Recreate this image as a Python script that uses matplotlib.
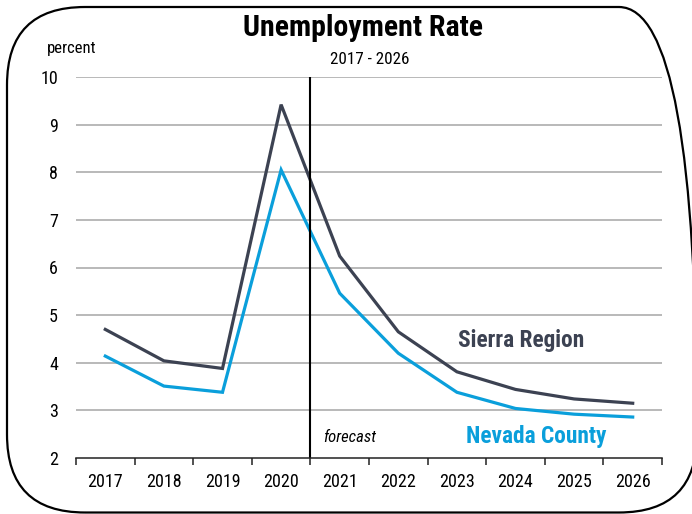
import matplotlib
matplotlib.use("Agg")
import matplotlib.pyplot as plt
from matplotlib.patches import FancyBboxPatch

years = ["2017", "2018", "2019", "2020", "2021", "2022", "2023", "2024", "2025", "2026"]
sierra_region = [4.70, 4.04, 3.88, 9.42, 6.24, 4.65, 3.81, 3.44, 3.24, 3.15]
nevada_county = [4.14, 3.51, 3.38, 8.05, 5.46, 4.20, 3.38, 3.04, 2.92, 2.86]
y_ticks = [2, 3, 4, 5, 6, 7, 8, 9, 10]

SIERRA = "#3c4252"
NEVADA = "#0a9fdb"
FONT = ["Liberation Sans Narrow", "Arial Narrow", "Roboto Condensed",
        "Archivo Narrow", "Liberation Sans", "DejaVu Sans"]
plt.rcParams["font.family"] = FONT

fig = plt.figure(figsize=(6.92, 5.14), dpi=100)
W, H = 692.0, 514.0
ax = fig.add_axes([76 / W, 1 - 458 / H, (662 - 76) / W, (458 - 77) / H])

x = list(range(len(years)))
ax.plot(x, sierra_region, color=SIERRA, lw=2.3, solid_joinstyle="miter")
ax.plot(x, nevada_county, color=NEVADA, lw=2.3, solid_joinstyle="miter")
ax.axvline(3.5, color="black", lw=1.5)

ax.set_xlim(-0.5, len(years) - 0.5)
ax.set_ylim(2, 10)
ax.set_yticks(y_ticks)
ax.set_yticklabels([str(v) for v in y_ticks], fontsize=13)
ax.tick_params(axis="y", length=0, pad=13)
for v in y_ticks[1:]:
    ax.axhline(v, color="#a6a6a6", lw=1.1, zorder=0)

# category boundaries as ticks, labels at the centres
ax.set_xticks([i - 0.5 for i in range(len(years) + 1)])
ax.set_xticklabels([])
ax.tick_params(axis="x", which="major", length=5, width=1.1, color="#222222")
ax.set_xticks(x, minor=True)
ax.set_xticklabels(years, minor=True, fontsize=13)
ax.tick_params(axis="x", which="minor", length=0, pad=11)

for s in ["top", "right", "left"]:
    ax.spines[s].set_visible(False)
ax.spines["bottom"].set_color("#222222")
ax.spines["bottom"].set_linewidth(1.1)

fig.text(363 / W, 1 - 28 / H, "Unemployment Rate", ha="center", va="center",
         fontsize=21.5, fontweight="bold")
fig.text(370 / W, 1 - 60 / H, "2017 - 2026", ha="center", va="center", fontsize=12.3)
fig.text(47 / W, 1 - 49 / H, "percent", ha="left", va="center", fontsize=12)
fig.text(323 / W, 1 - 438 / H, "forecast", ha="left", va="center", fontsize=12,
         style="italic")
fig.text(458 / W, 1 - 341 / H, "Sierra Region", ha="left", va="center", fontsize=16.8,
         fontweight="bold", color=SIERRA)
fig.text(466 / W, 1 - 437 / H, "Nevada County", ha="left", va="center", fontsize=16.8,
         fontweight="bold", color=NEVADA)

border = FancyBboxPatch((0.07, 0.015), 6.9, 5.055,
                        boxstyle="round,pad=0,rounding_size=0.78",
                        transform=fig.dpi_scale_trans, fill=False,
                        edgecolor="black", lw=1.6, clip_on=False)
fig.patches.append(border)

fig.savefig("out.png", dpi=100)
